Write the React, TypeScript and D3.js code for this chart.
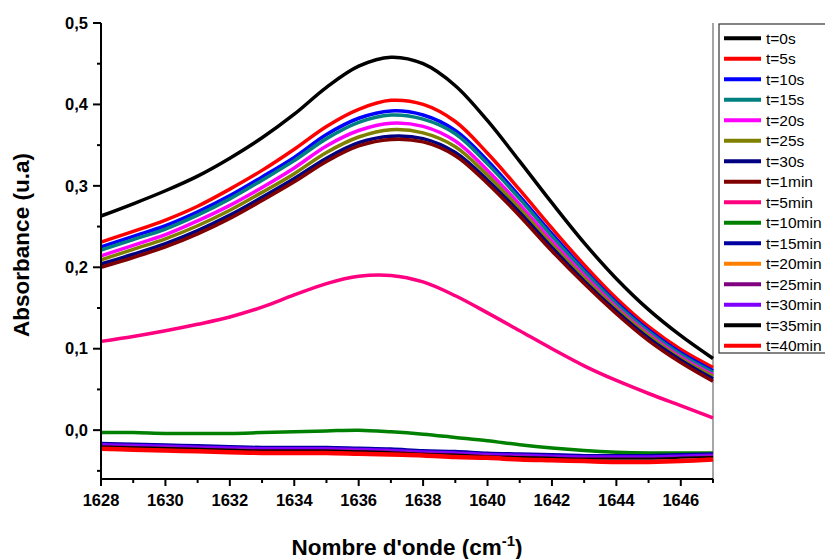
import React from "react";
import * as d3 from "d3";

// Wavenumber grid (cm-1)
const wavenumbers = [
  1628, 1629, 1630, 1631, 1632, 1633, 1634, 1635, 1636, 1637,
  1638, 1639, 1640, 1641, 1642, 1643, 1644, 1645, 1646, 1647,
];

// Absorbance spectra at each time
const abs_0s = [0.263, 0.278, 0.294, 0.312, 0.334, 0.359, 0.388, 0.421, 0.447, 0.458, 0.450, 0.423, 0.380, 0.330, 0.279, 0.230, 0.186, 0.148, 0.116, 0.088];
const abs_5s = [0.231, 0.244, 0.258, 0.275, 0.296, 0.319, 0.345, 0.373, 0.394, 0.405, 0.400, 0.379, 0.340, 0.295, 0.248, 0.203, 0.162, 0.127, 0.099, 0.077];
const abs_10s = [0.225, 0.238, 0.251, 0.268, 0.288, 0.311, 0.335, 0.363, 0.383, 0.392, 0.387, 0.368, 0.331, 0.287, 0.241, 0.197, 0.157, 0.123, 0.095, 0.073];
const abs_15s = [0.221, 0.234, 0.247, 0.264, 0.284, 0.307, 0.331, 0.358, 0.378, 0.387, 0.382, 0.364, 0.327, 0.284, 0.238, 0.195, 0.155, 0.121, 0.093, 0.071];
const abs_20s = [0.214, 0.227, 0.240, 0.257, 0.276, 0.298, 0.322, 0.349, 0.368, 0.377, 0.373, 0.355, 0.319, 0.277, 0.232, 0.190, 0.151, 0.118, 0.090, 0.068];
const abs_25s = [0.209, 0.222, 0.235, 0.251, 0.270, 0.292, 0.315, 0.341, 0.360, 0.369, 0.365, 0.348, 0.313, 0.272, 0.228, 0.187, 0.149, 0.116, 0.088, 0.066];
const abs_30s = [0.204, 0.216, 0.229, 0.245, 0.264, 0.286, 0.309, 0.334, 0.353, 0.361, 0.358, 0.341, 0.307, 0.267, 0.224, 0.183, 0.146, 0.113, 0.086, 0.063];
const abs_1min = [0.200, 0.212, 0.225, 0.241, 0.260, 0.282, 0.305, 0.330, 0.349, 0.357, 0.354, 0.337, 0.303, 0.263, 0.220, 0.180, 0.143, 0.110, 0.083, 0.060];
const abs_5min = [0.109, 0.115, 0.122, 0.130, 0.139, 0.151, 0.166, 0.180, 0.189, 0.190, 0.182, 0.165, 0.144, 0.122, 0.100, 0.079, 0.061, 0.045, 0.030, 0.015];
const abs_10min = [-0.003, -0.003, -0.004, -0.004, -0.004, -0.003, -0.002, -0.001, 0.000, -0.002, -0.005, -0.009, -0.013, -0.018, -0.022, -0.025, -0.027, -0.028, -0.028, -0.028];
const abs_15min = [-0.016, -0.017, -0.018, -0.019, -0.020, -0.021, -0.021, -0.021, -0.022, -0.023, -0.025, -0.026, -0.028, -0.029, -0.030, -0.031, -0.031, -0.031, -0.030, -0.029];
const abs_20min = [-0.018, -0.019, -0.020, -0.021, -0.022, -0.023, -0.023, -0.023, -0.024, -0.025, -0.027, -0.028, -0.030, -0.031, -0.032, -0.033, -0.033, -0.033, -0.032, -0.031];
const abs_25min = [-0.019, -0.020, -0.021, -0.022, -0.023, -0.024, -0.024, -0.024, -0.025, -0.026, -0.028, -0.029, -0.031, -0.032, -0.033, -0.034, -0.034, -0.034, -0.033, -0.032];
const abs_30min = [-0.017, -0.018, -0.019, -0.020, -0.021, -0.022, -0.022, -0.022, -0.023, -0.024, -0.026, -0.027, -0.029, -0.030, -0.031, -0.032, -0.032, -0.032, -0.031, -0.030];
const abs_35min = [-0.020, -0.021, -0.022, -0.023, -0.024, -0.025, -0.025, -0.025, -0.026, -0.027, -0.029, -0.030, -0.032, -0.033, -0.034, -0.035, -0.035, -0.035, -0.034, -0.033];
const abs_40min = [-0.023, -0.024, -0.025, -0.026, -0.027, -0.028, -0.028, -0.028, -0.029, -0.030, -0.031, -0.033, -0.034, -0.036, -0.037, -0.038, -0.039, -0.039, -0.038, -0.036];

const seriesLabels = [
  "t=0s", "t=5s", "t=10s", "t=15s", "t=20s", "t=25s", "t=30s", "t=1min",
  "t=5min", "t=10min", "t=15min", "t=20min", "t=25min", "t=30min", "t=35min", "t=40min",
];
const seriesValues = [
  abs_0s, abs_5s, abs_10s, abs_15s, abs_20s, abs_25s, abs_30s, abs_1min,
  abs_5min, abs_10min, abs_15min, abs_20min, abs_25min, abs_30min, abs_35min, abs_40min,
];

const xTicks = [1628, 1630, 1632, 1634, 1636, 1638, 1640, 1642, 1644, 1646];
const xMinorTicks = [1629, 1631, 1633, 1635, 1637, 1639, 1641, 1643, 1645, 1647];
const yTicks = [0.0, 0.1, 0.2, 0.3, 0.4, 0.5];
const yMinorTicks = [-0.05, 0.05, 0.15, 0.25, 0.35, 0.45];

// Line styling per series
const seriesColors = [
  "#000000", "#ff0000", "#0000ff", "#008080", "#ff00ff", "#808000", "#000080", "#800000",
  "#ff0080", "#008000", "#0000a0", "#ff8000", "#800080", "#8000ff", "#000000", "#ff0000",
];
const seriesWidths = [3.5, 3.5, 3.5, 3.5, 3.5, 3.5, 3.5, 3.5, 3.5, 3.5, 3, 2, 2, 2, 2, 4.5];

const W = 825;
const H = 559;
const plot = { left: 101, right: 713, top: 23, bottom: 479 };
const FONT = "Arial, 'Liberation Sans', sans-serif";

export default function App() {
  const x = d3.scaleLinear().domain([1628, 1647]).range([plot.left, plot.right]);
  const y = d3.scaleLinear().domain([-0.06, 0.5]).range([plot.bottom, plot.top]);

  const line = d3
    .line<number>()
    .x((_, i) => x(wavenumbers[i]))
    .y((d) => y(d))
    .curve(d3.curveCatmullRom.alpha(0.5));

  const fmtY = (v: number) => d3.format(".1f")(v).replace(".", ",");

  const legendX = 719;
  const legendY = 24;
  const rowH = 20.5;

  return (
    <svg
      width={W}
      height={H}
      style={{ position: "absolute", left: 0, top: 0, background: "#fff" }}
      fontFamily={FONT}
    >
      <rect x={0} y={0} width={W} height={H} fill="#fff" />

      {/* right frame edge */}
      <line x1={plot.right} x2={plot.right} y1={plot.top} y2={plot.bottom} stroke="#888" strokeWidth={1.5} />

      {/* spectra */}
      <g fill="none" strokeLinejoin="round" strokeLinecap="butt">
        {seriesValues.map((vals, i) => (
          <path key={seriesLabels[i]} d={line(vals) || ""} stroke={seriesColors[i]} strokeWidth={seriesWidths[i]} />
        ))}
      </g>

      {/* y axis */}
      <g stroke="#000" strokeWidth={2}>
        <line x1={plot.left} x2={plot.left} y1={plot.top} y2={plot.bottom + 1} />
        {yTicks.map((t) => (
          <line key={"yt" + t} x1={plot.left - 8} x2={plot.left} y1={y(t)} y2={y(t)} />
        ))}
        {yMinorTicks.map((t) => (
          <line key={"ym" + t} x1={plot.left - 4} x2={plot.left} y1={y(t)} y2={y(t)} />
        ))}
      </g>
      <g fontSize={16.5} fontWeight="bold" textAnchor="end" fill="#000">
        {yTicks.map((t) => (
          <text key={"yl" + t} x={plot.left - 13} y={y(t)} dy="0.35em">
            {fmtY(t)}
          </text>
        ))}
      </g>

      {/* x axis */}
      <g stroke="#000" strokeWidth={2}>
        <line x1={plot.left - 1} x2={plot.right} y1={plot.bottom} y2={plot.bottom} />
        {xTicks.map((t) => (
          <line key={"xt" + t} x1={x(t)} x2={x(t)} y1={plot.bottom} y2={plot.bottom + 7} />
        ))}
        {xMinorTicks.map((t) => (
          <line key={"xm" + t} x1={x(t)} x2={x(t)} y1={plot.bottom} y2={plot.bottom + 4} />
        ))}
      </g>
      <g fontSize={16.5} fontWeight="bold" textAnchor="middle" fill="#000">
        {xTicks.map((t) => (
          <text key={"xl" + t} x={x(t)} y={plot.bottom + 27}>
            {t}
          </text>
        ))}
      </g>

      {/* axis titles */}
      <text
        transform={`translate(29, 245) rotate(-90)`}
        textAnchor="middle"
        fontSize={22.5}
        fontWeight="bold"
      >
        Absorbance (u.a)
      </text>
      <text x={(plot.left + plot.right) / 2} y={555} textAnchor="middle" fontSize={22.5} fontWeight="bold">
        Nombre d'onde (cm
        <tspan fontSize={15} dy={-9}>-1</tspan>
        <tspan dy={9}>)</tspan>
      </text>

      {/* legend */}
      <rect x={legendX} y={legendY} width={120} height={329} fill="#fff" stroke="#333" strokeWidth={1.2} />
      {seriesLabels.map((lab, i) => {
        const cy = 38.3 + i * rowH;
        return (
          <g key={"lg" + lab}>
            <line x1={724} x2={761} y1={cy} y2={cy} stroke={seriesColors[i]} strokeWidth={4} />
            <text x={766} y={cy} dy="0.36em" fontSize={15.5} fill="#000">
              {lab}
            </text>
          </g>
        );
      })}
    </svg>
  );
}
